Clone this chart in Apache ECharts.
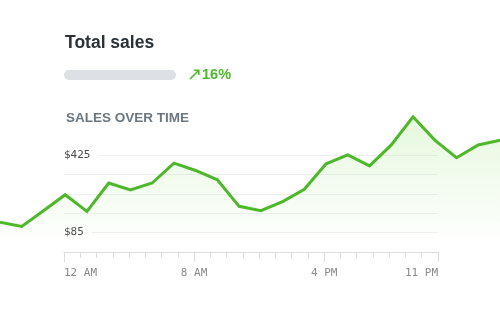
<!DOCTYPE html>
<html>
<head>
<meta charset="utf-8">
<script src="https://cdn.jsdelivr.net/npm/echarts@6/dist/echarts.min.js"></script>
<style>
  html, body { margin: 0; padding: 0; background: #fff; }
  #chart { width: 500px; height: 312px; }
</style>
</head>
<body>
<div id="chart"></div>
<script>
// hourly categories, 12 AM .. 11 PM
var hours = ['12 AM', '1 AM', '2 AM', '3 AM', '4 AM', '5 AM', '6 AM', '7 AM', '8 AM', '9 AM', '10 AM', '11 AM',
             '12 PM', '1 PM', '2 PM', '3 PM', '4 PM', '5 PM', '6 PM', '7 PM', '8 PM', '9 PM', '10 PM', '11 PM'];
// sales per hour ($)
var sales = [130, 112, 181, 251, 178, 302, 272, 302, 389, 357, 316, 200,
             181, 221, 275, 386, 425, 377, 469, 592, 490, 413, 469, 490];
var labeledHours = [0, 8, 16, 23];
var yLabelValues = [85, 425];
var growth = '16%';

var green = '#4cb82a';
var mono = '"DejaVu Sans Mono", monospace';
var sans = '"Liberation Sans", Arial, sans-serif';

var chart = echarts.init(document.getElementById('chart'));

function isLabeled(i) {
    return labeledHours.indexOf(i) >= 0;
}

var option = {
    animation: false,
    backgroundColor: '#fff',
    grid: [
        // the line runs across the whole width
        { left: 0, right: 0, top: 115, bottom: 60 },
        // axis and grid lines
        { left: 64, right: 62, top: 155, bottom: 60 }
    ],
    xAxis: [
        {
            gridIndex: 0, type: 'category', data: hours, boundaryGap: false,
            show: false
        },
        {
            gridIndex: 1, type: 'category', data: hours, boundaryGap: false,
            position: 'bottom',
            axisLine: { lineStyle: { color: '#dcdcdc', width: 1 } },
            axisTick: { interval: 0, length: 6, lineStyle: { color: '#dcdcdc' } },
            axisLabel: {
                interval: function (i) { return isLabeled(i); },
                alignMinLabel: 'left', alignMaxLabel: 'right',
                margin: 16, color: '#8a8a8a', fontFamily: mono, fontSize: 11
            },
            splitLine: { show: false }
        },
        {
            // longer ticks under the labelled hours
            gridIndex: 1, type: 'category', data: hours, boundaryGap: false,
            position: 'bottom', offset: 0,
            axisLine: { show: false },
            axisTick: { interval: function (i) { return isLabeled(i); }, length: 10, lineStyle: { color: '#dcdcdc' } },
            axisLabel: { show: false },
            splitLine: { show: false }
        }
    ],
    yAxis: [
        {
            gridIndex: 0, type: 'value', min: 0, max: 600, show: false
        },
        {
            gridIndex: 1, type: 'value', min: 0, max: 425, interval: 85,
            axisLine: { show: false },
            axisTick: { show: false },
            splitLine: { lineStyle: { color: '#efefef', width: 1 } },
            axisLabel: {
                customValues: yLabelValues,
                inside: true, margin: 0,
                formatter: function (v) { return '$' + v; },
                color: '#4a4a4a', fontFamily: mono, fontSize: 11,
                backgroundColor: '#fff', padding: [3, 8, 3, 0]
            }
        }
    ],
    series: [{
        type: 'line',
        xAxisIndex: 0, yAxisIndex: 0,
        data: sales,
        symbol: 'none',
        z: 3,
        lineStyle: { color: green, width: 3, join: 'miter' },
        areaStyle: {
            color: new echarts.graphic.LinearGradient(0, 0, 0, 1, [
                { offset: 0, color: 'rgba(140, 225, 100, 0.32)' },
                { offset: 0.75, color: 'rgba(170, 230, 140, 0.1)' },
                { offset: 1, color: 'rgba(255, 255, 255, 0)' }
            ])
        }
    }],
    graphic: [
        {
            type: 'text', z: 10,
            style: { x: 65, y: 43, text: 'Total sales', fill: '#2b3137',
                     font: 'bold 17.5px ' + sans, verticalAlign: 'middle' }
        },
        {
            type: 'rect', z: 10,
            shape: { x: 64, y: 70, width: 112, height: 10, r: 5 },
            style: { fill: '#dde0e4' }
        },
        {
            type: 'text', z: 10,
            style: { x: 187, y: 75, text: '↗', fill: green,
                     font: '18px "DejaVu Sans", sans-serif', verticalAlign: 'middle' }
        },
        {
            type: 'text', z: 10,
            style: { x: 202, y: 75, text: growth, fill: green,
                     font: 'bold 14.5px ' + sans, verticalAlign: 'middle' }
        },
        {
            type: 'text', z: 10,
            style: { x: 66, y: 118, text: 'SALES OVER TIME', fill: '#6c7780',
                     font: 'bold 13.5px ' + sans, verticalAlign: 'middle' }
        }
    ]
};

chart.setOption(option);
</script>
</body>
</html>
